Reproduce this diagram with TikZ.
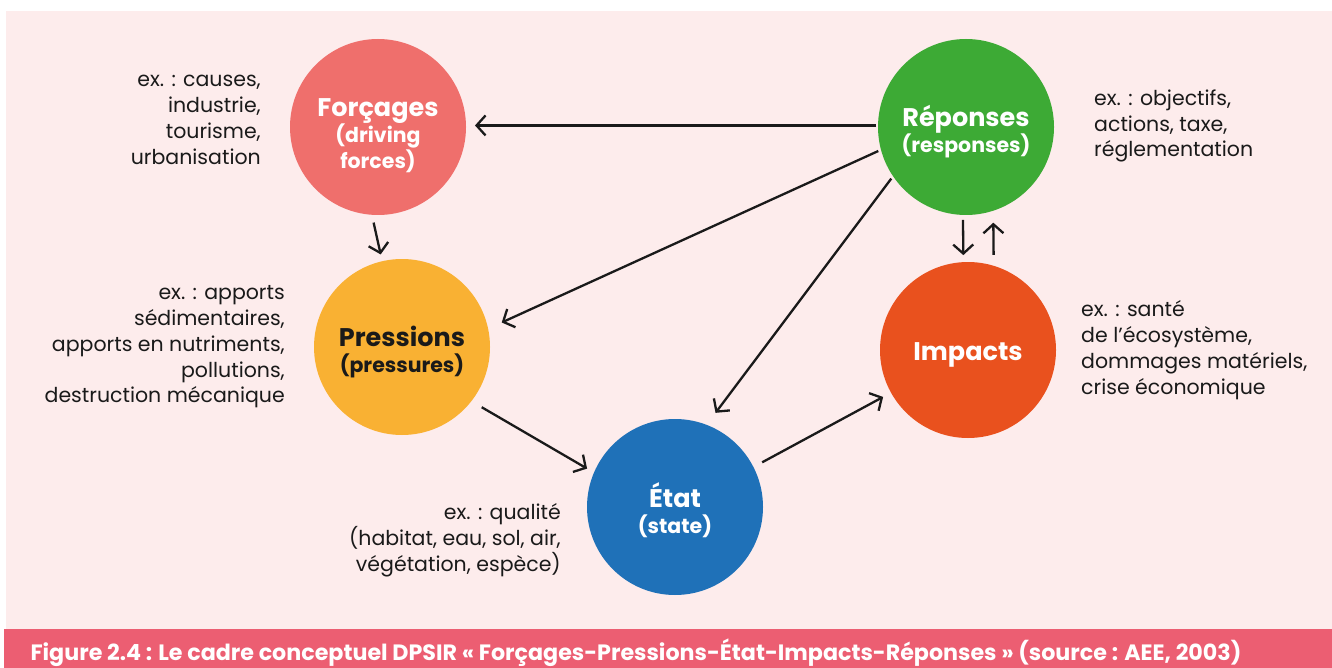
\documentclass[tikz,border=0pt]{standalone}
\usepackage{fontspec}
\setmainfont{Poppins}
\usetikzlibrary{arrows.meta}
\definecolor{bgpink}{HTML}{FDECEC}
\definecolor{barpink}{HTML}{EC5E72}
\definecolor{dcol}{HTML}{EF6F6C}
\definecolor{rcol}{HTML}{3DAA35}
\definecolor{pcol}{HTML}{F9B133}
\definecolor{icol}{HTML}{E9511E}
\definecolor{scol}{HTML}{1F71B8}
\definecolor{ink}{HTML}{1A1A1A}
\tikzset{
  stage/.style={circle, minimum size=176pt, inner sep=0pt, outer sep=0pt},
  stagetext/.style={align=center, text=white, yshift=-5pt,
    font=\bfseries\fontsize{20.5}{26}\selectfont},
  note/.style={text=ink, inner sep=0pt, font=\fontsize{20.5}{25.8}\selectfont},
  flow/.style={-{Straight Barb[length=9pt,width=20pt]}, line width=2.3pt, ink},
}
\newcommand{\stagename}[1]{{\fontsize{25.5}{29}\selectfont #1}}
\begin{document}
\begin{tikzpicture}[x=1pt,y=-1pt]
\useasboundingbox (0,0) rectangle (1332,668);
\fill[bgpink] (6,11) rectangle (1332,629);
\fill[barpink] (4,629) rectangle (1332,668);
% the five stages
\node[stage, fill=dcol] (forc) at (378,127) {};
\node[stage, fill=rcol] (rep) at (966,127) {};
\node[stage, fill=pcol] (pres) at (402,347) {};
\node[stage, fill=icol] (imp) at (968,350) {};
\node[stage, fill=scol] (etat) at (675,507) {};
\node[stagetext, yshift=-4pt] (forct) at (forc) {\stagename{Forçages}\\(driving\\forces)};
\node[stagetext] (rept) at (rep) {\stagename{Réponses}\\(responses)};
\node[stagetext, text=ink] (prest) at (pres) {\stagename{Pressions}\\(pressures)};
\node[stagetext] (impt) at (imp) {\stagename{Impacts}};
\node[stagetext, yshift=2pt] (etatt) at (etat) {\stagename{État}\\(state)};
% examples
\node[note, align=right, anchor=east] (nforc) at (261,120) {ex. : causes,\\industrie,\\tourisme,\\urbanisation};
\node[note, align=right, anchor=east] (npres) at (285,347) {ex. : apports\\sédimentaires,\\apports en nutriments,\\pollutions,\\destruction mécanique};
\node[note, align=left, anchor=west] (nrep) at (1094,126) {ex. : objectifs,\\actions, taxe,\\réglementation};
\node[note, align=left, anchor=west] (nimp) at (1081,350) {ex. : santé\\de l’écosystème,\\dommages matériels,\\crise économique};
\node[note, align=right, anchor=east] (netat) at (561,540) {ex. : qualité\\(habitat, eau, sol, air,\\végétation, espèce)};
% links
\draw[flow, shorten <=2pt, shorten >=9pt] (rep.179) -- (forc.1);
\draw[flow, shorten <=8pt, shorten >=7pt] (forc.266) -- (pres.103);
\draw[flow, shorten <=3pt, shorten >=15pt] (rep.195) -- (pres.12);
\draw[flow, shorten <=3pt, shorten >=15pt] (rep.214) -- (etat.69);
\draw[flow, shorten <=12pt, shorten >=8pt] (pres.322) -- (etat.157);
\draw[flow, shorten <=10pt, shorten >=9pt] (etat.27) -- (imp.209);
\draw[flow, shorten <=5pt, shorten >=7pt] (rep.268) -- (imp.93);
\draw[flow, shorten <=11pt, shorten >=12pt] (imp.73) -- (rep.288);
% caption
\node[anchor=base west, text=white, font=\bfseries\fontsize{22.2}{26}\selectfont] (cap) at (27,660)
  {Figure 2.4 : Le cadre conceptuel DPSIR « Forçages-Pressions-État-Impacts-Réponses » (source : AEE, 2003)};
\end{tikzpicture}
\end{document}
